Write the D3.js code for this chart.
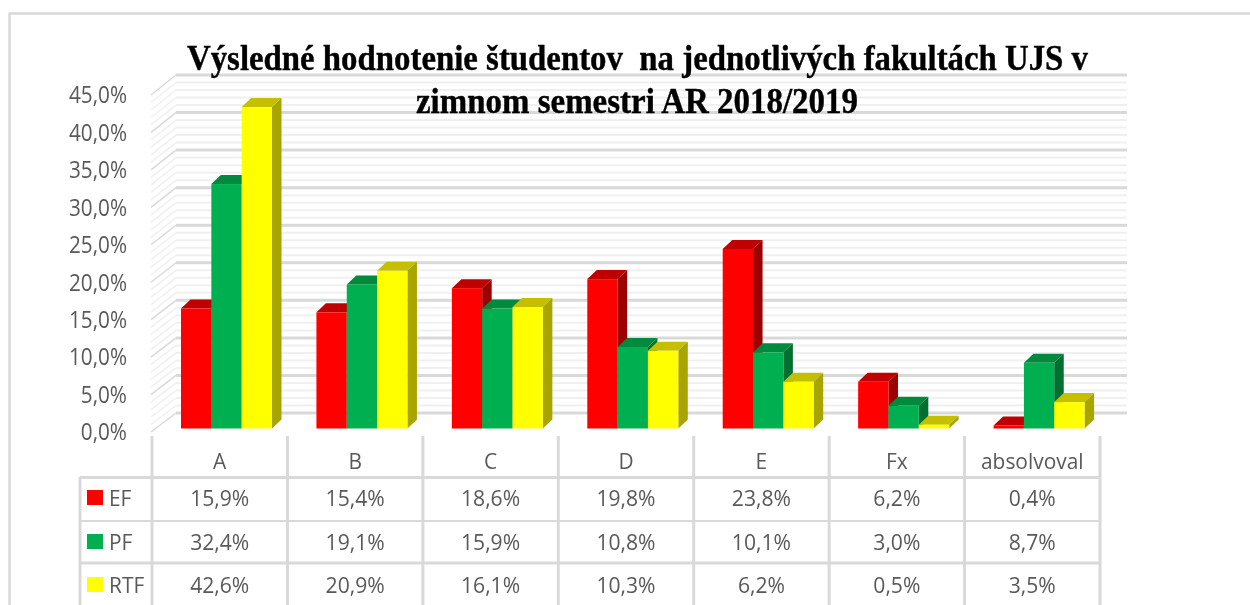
<!DOCTYPE html>
<html><head><meta charset="utf-8">
<script src="https://cdn.jsdelivr.net/npm/d3@7"></script>
<style>html,body{margin:0;padding:0;background:#fff;overflow:hidden}svg{display:block;filter:blur(0.35px)}</style>
</head><body><svg id="c" width="1250" height="605"></svg>
<script>
const categories = ["A","B","C","D","E","Fx","absolvoval"];
const seriesNames = ["EF","PF","RTF"];
const EF = [15.9,15.4,18.6,19.8,23.8,6.2,0.4];
const PF = [32.4,19.1,15.9,10.8,10.1,3.0,8.7];
const RTF = [42.6,20.9,16.1,10.3,6.2,0.5,3.5];
const titleLines = ["Výsledné hodnotenie študentov  na jednotlivých fakultách UJS v","zimnom semestri AR 2018/2019"];
const series = [EF,PF,RTF];
const front = ["#ff0000","#00b050","#ffff00"], topC = ["#c00000","#008a3e","#c4c000"], sideC = ["#9c0000","#006f31","#a8a400"];
const gridMajor = "#d9d9d9", gridMinor = "#f0f0f0", txt = "#595959";
const fmt = v => v.toFixed(1).replace(".",",")+"%";
const svg = d3.select("#c");
const font = "'Open Sans'";
// frame: only the top and left edges are visible
svg.append("line").attr("x1",9).attr("x2",1250).attr("y1",13.5).attr("y2",13.5).attr("stroke","#d9d9d9").attr("stroke-width",2.5);
svg.append("line").attr("x1",9.5).attr("x2",9.5).attr("y1",13).attr("y2",605).attr("stroke","#d9d9d9").attr("stroke-width",2.5);
const y = d3.scaleLinear().domain([0,45]).range([428.5,89]);     // front of bars
const yWall = d3.scaleLinear().domain([0,45]).range([413,75]);   // back wall
const yAxis = d3.scaleLinear().domain([0,45]).range([432,95]);   // front edge of side wall
const x0 = d3.scaleBand().domain(categories).range([152,1100]);
const x1 = d3.scaleBand().domain(seriesNames).range([29,120]);
const axisX=151, wallL=176, wallR=1127;
const g = svg.append("g");
d3.range(0,45.01,1).forEach(v=>{
  const maj = v%5===0, col = maj?gridMajor:gridMinor;
  g.append("line").attr("x1",wallL).attr("x2",wallR).attr("y1",yWall(v)).attr("y2",yWall(v)).attr("stroke",col).attr("stroke-width",maj?3:2);
  g.append("line").attr("x1",axisX).attr("x2",wallL).attr("y1",yAxis(v)).attr("y2",yWall(v)).attr("stroke",col).attr("stroke-width",1.5);
});
// condensed text helper
function label(x,yy,t,anchor,size,squeeze){
  const e=svg.append("text").attr("x",x).attr("y",yy).attr("dy","0.36em").attr("text-anchor",anchor)
    .attr("font-family",font).attr("font-size",size).attr("fill",txt).text(t);
  e.attr("textLength",e.node().getComputedTextLength()*squeeze).attr("lengthAdjust","spacingAndGlyphs");
}
d3.range(0,45.01,5).forEach(v=>label(127,yAxis(v),fmt(v),"end",23,0.9));
// bars
const dx=9.5, dy=9;
categories.forEach((c,i)=>{
  seriesNames.forEach((s,k)=>{
    const v=series[k][i], l=x0(c)+x1(s), w=x1.bandwidth(), t=y(v), b=y(0);
    const bg=svg.append("g");
    bg.append("path").attr("d",`M${l},${t}L${l+dx},${t-dy}L${l+w+dx},${t-dy}L${l+w},${t}Z`).attr("fill",topC[k]);
    bg.append("path").attr("d",`M${l+w},${t}L${l+w+dx},${t-dy}L${l+w+dx},${b-dy}L${l+w},${b}Z`).attr("fill",sideC[k]);
    bg.append("rect").attr("x",l).attr("y",t).attr("width",w).attr("height",b-t).attr("fill",front[k]);
  });
});
// title
titleLines.forEach((t,i)=>{
  svg.append("text").attr("x",[637.5,637][i]).attr("y",[70,113][i]).attr("text-anchor","middle").style("white-space","pre")
    .attr("font-family","'Liberation Serif'").attr("font-weight","bold").attr("font-size",36).attr("fill","#000")
    .attr("stroke","#000").attr("stroke-width",0.4)
    .attr("textLength",[901,442][i]).attr("lengthAdjust","spacingAndGlyphs").text(t);
});
// data table
const rowLines=[477.5,521,563], tableL=80, tableR=1100, rowMid=[498,542,585];
const tl=svg.append("g").attr("stroke",gridMajor);
rowLines.forEach((ry,i)=>tl.append("line").attr("x1",tableL).attr("x2",tableR).attr("y1",ry).attr("y2",ry).attr("stroke-width",i==1?2:3));
tl.append("line").attr("x1",tableL).attr("x2",tableL).attr("y1",477).attr("y2",605).attr("stroke-width",3);
[...categories.map(c=>x0(c)),tableR].forEach(vx=>tl.append("line").attr("x1",vx).attr("x2",vx).attr("y1",436).attr("y2",605).attr("stroke-width",3));
categories.forEach((c,i)=>{
  const cx=x0(c)+x0.bandwidth()/2;
  label(cx,461,c,"middle",22,0.95);
  series.forEach((arr,k)=>label(cx,rowMid[k],fmt(arr[i]),"middle",22,0.96));
});
seriesNames.forEach((s,k)=>{
  svg.append("rect").attr("x",87).attr("y",rowMid[k]-8).attr("width",16).attr("height",15).attr("fill",front[k]);
  label(109,rowMid[k],s,"start",22,0.95);
});
</script></body></html>
